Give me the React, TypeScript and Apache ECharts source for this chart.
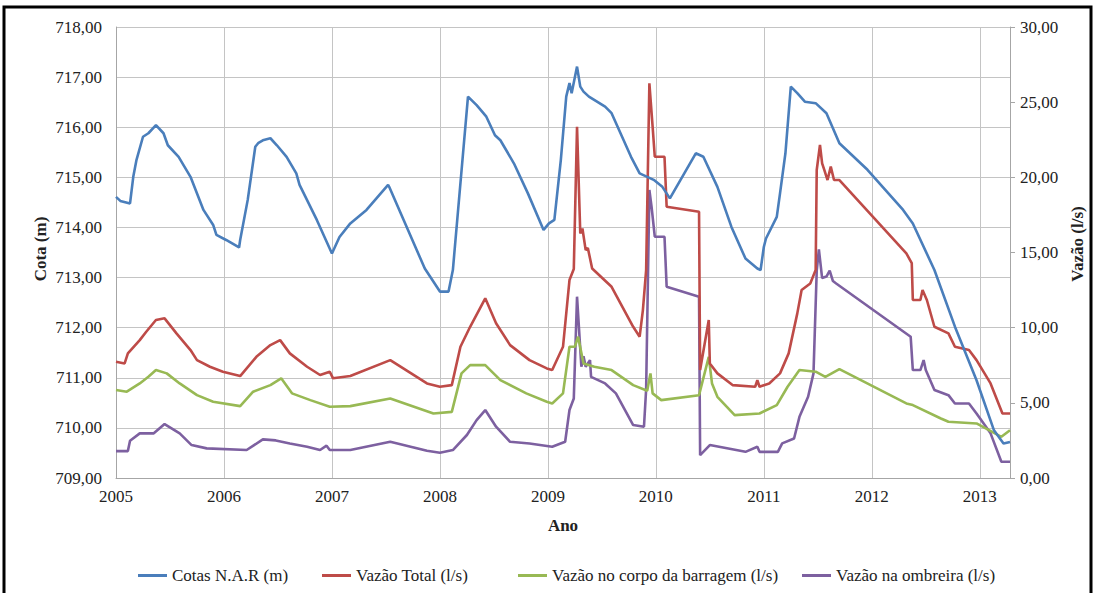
import React, { useEffect, useRef } from "react";
import * as echarts from "echarts";

// [year (decimal), value]
const cotaData: [number, number][] = [
  [2005.0, 714.61], [2005.04, 714.53], [2005.13, 714.48], [2005.16, 715.01], [2005.19, 715.35],
  [2005.25, 715.81], [2005.3, 715.88], [2005.37, 716.04], [2005.44, 715.88], [2005.48, 715.64],
  [2005.58, 715.41], [2005.69, 715.01], [2005.81, 714.35], [2005.9, 714.05], [2005.93, 713.85],
  [2006.02, 713.75], [2006.14, 713.6], [2006.15, 713.75], [2006.22, 714.55], [2006.29, 715.61],
  [2006.32, 715.69], [2006.36, 715.74], [2006.43, 715.78], [2006.49, 715.64], [2006.58, 715.41],
  [2006.67, 715.08], [2006.7, 714.85], [2006.86, 714.15], [2007.0, 713.48], [2007.07, 713.81],
  [2007.17, 714.08], [2007.32, 714.35], [2007.52, 714.85], [2007.53, 714.81], [2007.86, 713.18],
  [2008.0, 712.72], [2008.08, 712.72], [2008.12, 713.15], [2008.26, 716.61], [2008.34, 716.44],
  [2008.43, 716.21], [2008.51, 715.84], [2008.56, 715.74], [2008.685, 715.28], [2008.815, 714.68],
  [2008.96, 713.95], [2009.01, 714.08], [2009.06, 714.15], [2009.12, 715.35], [2009.17, 716.61],
  [2009.2, 716.88], [2009.22, 716.68], [2009.27, 717.21], [2009.3, 716.81], [2009.33, 716.71],
  [2009.38, 716.61], [2009.53, 716.41], [2009.59, 716.28], [2009.77, 715.41], [2009.85, 715.08],
  [2009.98, 714.95], [2010.06, 714.81], [2010.13, 714.58], [2010.37, 715.48], [2010.44, 715.41],
  [2010.57, 714.81], [2010.7, 714.01], [2010.83, 713.38], [2010.94, 713.18], [2010.97, 713.15],
  [2011.0, 713.61], [2011.02, 713.78], [2011.12, 714.21], [2011.15, 714.68], [2011.2, 715.48],
  [2011.25, 716.81], [2011.31, 716.68], [2011.38, 716.51], [2011.48, 716.48], [2011.58, 716.28],
  [2011.7, 715.68], [2011.96, 715.15], [2012.29, 714.35], [2012.38, 714.08], [2012.58, 713.15],
  [2012.77, 712.02], [2012.97, 710.95], [2013.13, 709.96], [2013.22, 709.69], [2013.28, 709.72],
];

const totalData: [number, number][] = [
  [2005.0, 7.73], [2005.08, 7.62], [2005.11, 8.29], [2005.22, 9.17], [2005.28, 9.73], [2005.37, 10.51],
  [2005.45, 10.62], [2005.56, 9.62], [2005.69, 8.51], [2005.75, 7.84], [2005.87, 7.4], [2005.99, 7.07],
  [2006.15, 6.78], [2006.3, 8.06], [2006.43, 8.84], [2006.52, 9.17], [2006.61, 8.29], [2006.77, 7.4],
  [2006.89, 6.85], [2006.98, 7.07], [2007.01, 6.63], [2007.17, 6.78], [2007.54, 7.84], [2007.88, 6.29],
  [2008.0, 6.07], [2008.11, 6.18], [2008.19, 8.73], [2008.28, 10.06], [2008.42, 11.95], [2008.52, 10.29],
  [2008.65, 8.84], [2008.83, 7.84], [2008.99, 7.29], [2009.04, 7.18], [2009.14, 8.73], [2009.2, 13.17],
  [2009.24, 13.9], [2009.27, 23.37], [2009.3, 16.27], [2009.32, 16.6], [2009.35, 15.16], [2009.37, 15.3],
  [2009.41, 13.94], [2009.59, 12.72], [2009.79, 10.06], [2009.85, 9.4], [2009.88, 11.17], [2009.91, 13.83],
  [2009.94, 26.25], [2009.97, 23.37], [2009.99, 21.37], [2010.08, 21.37], [2010.1, 18.04], [2010.4, 17.71],
  [2010.41, 7.18], [2010.49, 10.51], [2010.5, 7.62], [2010.57, 6.96], [2010.71, 6.18], [2010.92, 6.07],
  [2010.94, 6.5], [2010.96, 6.07], [2011.05, 6.29], [2011.15, 6.96], [2011.23, 8.29], [2011.31, 10.95],
  [2011.35, 12.5], [2011.43, 12.94], [2011.48, 13.83], [2011.49, 20.49], [2011.52, 22.15], [2011.54, 20.93],
  [2011.56, 20.5], [2011.59, 19.82], [2011.62, 20.71], [2011.65, 19.82], [2011.7, 19.82], [2012.32, 14.94],
  [2012.37, 14.3], [2012.38, 11.84], [2012.45, 11.84], [2012.47, 12.5], [2012.51, 11.84], [2012.58, 10.06],
  [2012.71, 9.62], [2012.77, 8.73], [2012.9, 8.51], [2012.97, 7.84], [2013.1, 6.29], [2013.21, 4.29],
  [2013.28, 4.29],
];

const corpoData: [number, number][] = [
  [2005.0, 5.85], [2005.1, 5.74], [2005.22, 6.29], [2005.3, 6.73], [2005.37, 7.18], [2005.47, 6.96],
  [2005.59, 6.29], [2005.75, 5.51], [2005.9, 5.07], [2006.15, 4.78], [2006.27, 5.74], [2006.43, 6.18],
  [2006.53, 6.63], [2006.63, 5.63], [2006.8, 5.18], [2006.98, 4.74], [2007.17, 4.78], [2007.54, 5.29],
  [2007.94, 4.29], [2008.11, 4.4], [2008.2, 6.96], [2008.28, 7.51], [2008.42, 7.51], [2008.56, 6.51],
  [2008.8, 5.63], [2008.99, 5.07], [2009.04, 4.96], [2009.14, 5.63], [2009.2, 8.73], [2009.25, 8.73],
  [2009.28, 9.4], [2009.33, 7.62], [2009.43, 7.4], [2009.59, 7.18], [2009.79, 6.18], [2009.92, 5.8],
  [2009.95, 6.96], [2009.97, 5.63], [2010.05, 5.18], [2010.4, 5.51], [2010.49, 8.06], [2010.52, 6.29],
  [2010.57, 5.4], [2010.73, 4.18], [2010.96, 4.29], [2011.12, 4.85], [2011.22, 6.07], [2011.33, 7.18],
  [2011.48, 7.07], [2011.57, 6.73], [2011.7, 7.24], [2012.32, 4.96], [2012.38, 4.85], [2012.64, 3.96],
  [2012.71, 3.74], [2012.97, 3.63], [2013.2, 2.74], [2013.28, 3.18],
];

const ombreiraData: [number, number][] = [
  [2005.0, 1.79], [2005.11, 1.79], [2005.13, 2.48], [2005.22, 2.97], [2005.35, 2.97], [2005.45, 3.59],
  [2005.59, 2.97], [2005.7, 2.19], [2005.84, 1.97], [2006.21, 1.86], [2006.36, 2.57], [2006.48, 2.5],
  [2006.61, 2.3], [2006.77, 2.08], [2006.89, 1.86], [2006.95, 2.15], [2006.98, 1.86], [2007.17, 1.86],
  [2007.54, 2.41], [2007.88, 1.81], [2008.0, 1.68], [2008.12, 1.86], [2008.25, 2.86], [2008.34, 3.85],
  [2008.42, 4.52], [2008.52, 3.41], [2008.65, 2.41], [2008.83, 2.3], [2009.04, 2.08], [2009.16, 2.41],
  [2009.2, 4.52], [2009.24, 5.29], [2009.27, 12.06], [2009.31, 7.4], [2009.33, 8.1], [2009.35, 7.4],
  [2009.39, 7.84], [2009.4, 6.73], [2009.53, 6.29], [2009.63, 5.63], [2009.79, 3.52], [2009.89, 3.41],
  [2009.91, 5.9], [2009.94, 19.16], [2009.96, 18.05], [2009.99, 16.05], [2010.08, 16.05], [2010.1, 12.72],
  [2010.4, 12.06], [2010.41, 1.52], [2010.5, 2.19], [2010.83, 1.74], [2010.94, 2.08], [2010.96, 1.74],
  [2011.13, 1.74], [2011.17, 2.3], [2011.28, 2.63], [2011.33, 4.07], [2011.41, 5.4], [2011.46, 6.96],
  [2011.49, 13.8], [2011.51, 15.2], [2011.54, 13.3], [2011.58, 13.4], [2011.61, 13.8], [2011.64, 13.1],
  [2011.67, 12.94], [2012.36, 9.4], [2012.38, 7.18], [2012.45, 7.18], [2012.48, 7.84], [2012.5, 7.18],
  [2012.58, 5.85], [2012.71, 5.51], [2012.77, 4.96], [2012.9, 4.96], [2012.97, 4.29], [2013.1, 2.97],
  [2013.2, 1.08], [2013.28, 1.08],
];

const seriesNames = [
  "Cotas N.A.R (m)",
  "Vazão Total (l/s)",
  "Vazão no corpo da barragem (l/s)",
  "Vazão na ombreira (l/s)",
];
const seriesColors = ["#4A7EBB", "#BE4B48", "#98B954", "#7D60A0"];
const legendLefts = [133, 317, 513, 797];

const FONT = "serif";
const fmt = (v: number) => v.toFixed(2).replace(".", ",");

export default function App() {
  const ref = useRef<HTMLDivElement>(null);
  useEffect(() => {
    if (!ref.current) return;
    const chart = echarts.init(ref.current, undefined, { renderer: "svg" });
    const datasets = [cotaData, totalData, corpoData, ombreiraData];
    chart.setOption({
      animation: false,
      backgroundColor: "#ffffff",
      textStyle: { fontFamily: FONT },
      grid: { left: 116, right: 85, top: 27, bottom: 115 },
      legend: seriesNames.map((n, i) => ({
        data: [n],
        left: legendLefts[i],
        top: 562,
        icon: "rect",
        itemWidth: 29,
        itemHeight: 3,
        selectedMode: false,
        textStyle: { fontFamily: FONT, fontSize: 17, color: "#222" },
      })),
      xAxis: {
        type: "value",
        min: 2005,
        max: 2013.28,
        interval: 1,
        axisLine: { show: true, lineStyle: { color: "#a6a6a6" } },
        axisTick: { show: false },
        axisLabel: {
          fontFamily: FONT,
          fontSize: 17,
          color: "#222",
          margin: 10,
          formatter: (v: number) =>
            Math.abs(v - Math.round(v)) < 1e-6 ? String(Math.round(v)) : "",
        },
        splitLine: { show: true, lineStyle: { color: "#c4c4c4" } },
      },
      yAxis: [
        {
          type: "value",
          min: 709,
          max: 718,
          interval: 1,
          axisLine: { show: true, lineStyle: { color: "#a6a6a6" } },
          axisTick: { show: false },
          axisLabel: { fontFamily: FONT, fontSize: 17, color: "#222", margin: 14, formatter: fmt },
          splitLine: { show: true, lineStyle: { color: "#c4c4c4" } },
        },
        {
          type: "value",
          min: 0,
          max: 30,
          interval: 5,
          position: "right",
          axisLine: { show: true, lineStyle: { color: "#a6a6a6" } },
          axisTick: { show: true, length: 5, lineStyle: { color: "#a6a6a6" } },
          axisLabel: { fontFamily: FONT, fontSize: 17, color: "#222", margin: 10, formatter: fmt },
          splitLine: { show: false },
        },
      ],
      series: datasets.map((d, i) => ({
        name: seriesNames[i],
        type: "line",
        yAxisIndex: i === 0 ? 0 : 1,
        data: d,
        showSymbol: false,
        symbol: "none",
        lineStyle: { width: 2.6, color: seriesColors[i] },
        itemStyle: { color: seriesColors[i] },
        z: 10 - i,
      })),
      graphic: [
        {
          type: "rect",
          shape: { x: 4, y: 7, width: 1087, height: 600 },
          style: { fill: "none", stroke: "#000", lineWidth: 3 },
          silent: true,
        },
        {
          type: "text",
          x: 40,
          y: 249,
          rotation: Math.PI / 2,
          style: {
            text: "Cota (m)",
            fontFamily: FONT,
            fontSize: 17,
            fontWeight: "bold",
            align: "center",
            verticalAlign: "middle",
            fill: "#222",
          },
        },
        {
          type: "text",
          x: 1077,
          y: 244,
          rotation: Math.PI / 2,
          style: {
            text: "Vazão (l/s)",
            fontFamily: FONT,
            fontSize: 17,
            fontWeight: "bold",
            align: "center",
            verticalAlign: "middle",
            fill: "#222",
          },
        },
        {
          type: "text",
          x: 563,
          y: 525,
          style: {
            text: "Ano",
            fontFamily: FONT,
            fontSize: 17,
            fontWeight: "bold",
            align: "center",
            verticalAlign: "middle",
            fill: "#222",
          },
        },
      ],
    });
    return () => chart.dispose();
  }, []);
  return (
    <div
      ref={ref}
      style={{ position: "fixed", left: 0, top: 0, width: 1095, height: 593, background: "#fff" }}
    />
  );
}
